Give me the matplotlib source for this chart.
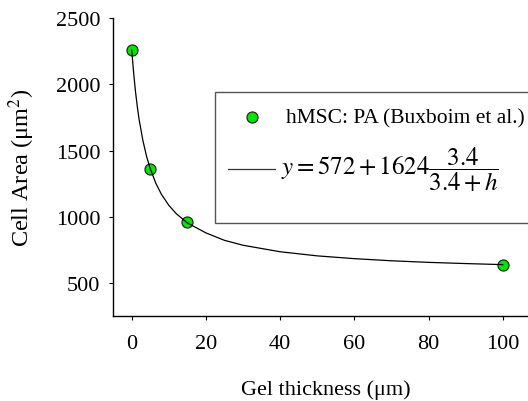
import matplotlib
matplotlib.use("Agg")
import matplotlib.pyplot as plt
from matplotlib.patches import Rectangle
from matplotlib.lines import Line2D

plt.rcParams["font.family"] = ["Liberation Serif", "DejaVu Serif"]
plt.rcParams["mathtext.fontset"] = "stix"

# measured points
thickness = [0, 5, 15, 100]
cell_area = [2258, 1362, 960, 638]

# fitted curve
curve_h = [0, 0.5, 1, 1.5, 2, 3, 4, 5, 6.5, 8, 10, 12, 15, 20, 25, 30,
           40, 50, 60, 70, 80, 90, 100]
curve_y = [2258, 2090, 1948, 1832, 1733, 1577, 1457, 1363, 1254, 1171, 1088,
           1025, 955, 880, 824, 787, 738, 707, 686, 670, 658, 649, 641]

xticks = [0, 20, 40, 60, 80, 100]
yticks = [500, 1000, 1500, 2000, 2500]

GREEN = "#00e600"
FS = 16

W, H = 528, 402
fig = plt.figure(figsize=(W / 100, H / 100), dpi=100)
fig.patch.set_facecolor("white")
ax = fig.add_axes([113 / W, 1 - 316.7 / H, 415 / W, 297.7 / H])

ax.plot(thickness, cell_area, "o", color=GREEN, mec="#1a1a1a", mew=0.8,
        ms=8, zorder=3)
ax.plot(curve_h, curve_y, color="black", lw=0.9, zorder=4)

ax.set_xlim(-5.05, 106.8)
ax.set_ylim(256, 2500)
ax.set_xticks(xticks)
ax.set_yticks(yticks)
ax.spines[["top", "right"]].set_visible(False)
for s in ("left", "bottom"):
    ax.spines[s].set_linewidth(1.0)
ax.tick_params(direction="out", length=3, width=0.8, labelsize=FS)
ax.tick_params(axis="x", pad=10)
ax.tick_params(axis="y", pad=6)

ax.set_xlabel("Gel thickness (μm)", fontsize=FS)
ax.set_ylabel("Cell Area (μm$^2$)", fontsize=17.5)
ax.xaxis.set_label_coords(0.513, -0.213)
ax.yaxis.set_label_coords(-0.182, 0.5)

# legend box, drawn by hand to match the wide padded frame
def fx(px):
    return px / W

def fy(py):
    return 1 - py / H

box = Rectangle((fx(215), fy(224)), fx(316), fy(92.7) - fy(224),
                transform=fig.transFigure, facecolor="white",
                edgecolor="#555555", lw=1.0, zorder=5)
fig.add_artist(box)
fig.add_artist(Line2D([fx(251.7)], [fy(118.3)], marker="o", color=GREEN,
                      mec="#1a1a1a", mew=0.8, ms=8, ls="none",
                      transform=fig.transFigure, zorder=6))
fig.text(fx(286), fy(119), "hMSC: PA (Buxboim et al.)", fontsize=15.5,
         va="center", ha="left", zorder=6)
fig.add_artist(Line2D([fx(228), fx(275)], [fy(170), fy(170)], color="#333333",
                      lw=0.9, transform=fig.transFigure, zorder=6))
fig.text(fx(281), fy(170), r"$y = 572 + 1624\dfrac{3.4}{3.4 + h}$",
         fontsize=18, va="center", ha="left", zorder=6)

fig.savefig("out.png", dpi=100, facecolor=fig.get_facecolor())
